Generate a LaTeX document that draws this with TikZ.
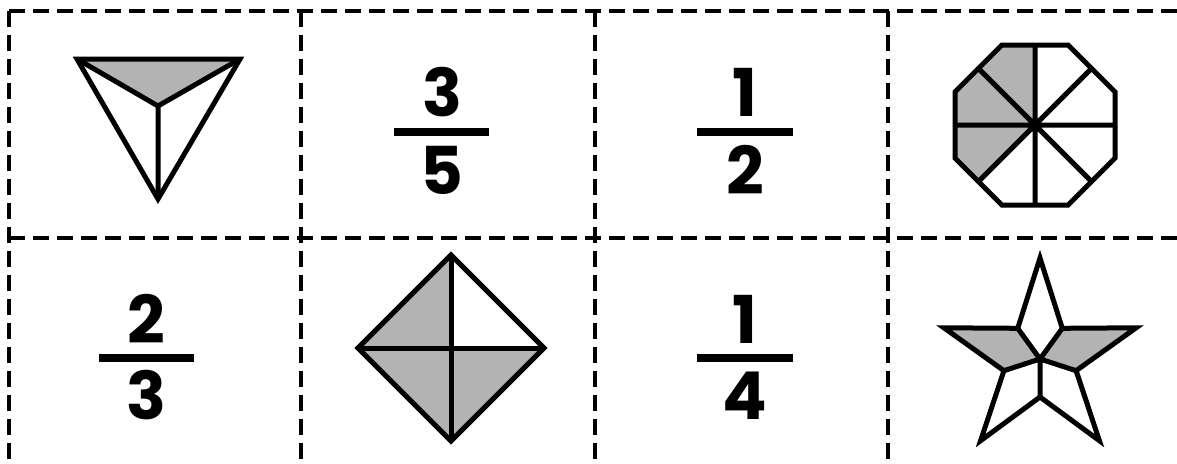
\documentclass[tikz,border=0pt]{standalone}
\usepackage{fontspec}
\setmainfont{Poppins}
\begin{document}
\begin{tikzpicture}[x=1pt,y=-1pt,
  gridline/.style={line width=4pt,dash pattern=on 16pt off 8pt},
  shapeline/.style={line width=5pt,line join=miter,draw=black},
  shaded/.style={fill=shadegray},
  digit/.style={anchor=base,inner sep=0pt,font=\fontsize{66}{66}\selectfont\bfseries},
  fracbar/.style={line width=8pt}]
\definecolor{shadegray}{HTML}{B3B3B3}
\useasboundingbox (0,0) rectangle (1177,463);
\begin{scope}
\clip (0,0) rectangle (1177,463);
\coordinate (g00) at (9,11);
\coordinate (g01) at (1190,11);
\coordinate (g10) at (9,238);
\coordinate (g11) at (1190,238);
\draw[gridline] (g00) -- (g01);
\draw[gridline] (g10) -- (g11);
\foreach \gx/\gn in {9/a,301/b,595/c,888/d}{
  \coordinate (v\gn t) at (\gx,11);
  \coordinate (v\gn b) at (\gx,470);
  \draw[gridline] (v\gn t) -- (v\gn b);
}
\end{scope}
% triangle
\coordinate (t1) at (77,59);
\coordinate (t2) at (240,59);
\coordinate (t3) at (158,199);
\coordinate (tc) at (158,106);
\fill[shaded] (t1) -- (t2) -- (tc) -- cycle;
\draw[shapeline] (t1) -- (t2) -- (t3) -- cycle;
\draw[shapeline] (t1) -- (tc) -- (t2) (tc) -- (t3);
% fraction 3/5
\node[digit] (n1) at (442,116) {3};
\node[digit] (d1) at (442,194) {5};
\coordinate (b1l) at (394,132); \coordinate (b1r) at (489,132);
\draw[fracbar] (b1l) -- (b1r);
% fraction 1/2
\node[digit] (n2) at (745,116) {1};
\node[digit] (d2) at (745,194) {2};
\coordinate (b2l) at (697,132); \coordinate (b2r) at (793,132);
\draw[fracbar] (b2l) -- (b2r);
% fraction 2/3
\node[digit] (n3) at (146,343) {2};
\node[digit] (d3) at (146,419) {3};
\coordinate (b3l) at (99,358); \coordinate (b3r) at (194,358);
\draw[fracbar] (b3l) -- (b3r);
% fraction 1/4
\node[digit] (n4) at (745,343) {1};
\node[digit] (d4) at (745,419) {4};
\coordinate (b4l) at (697,358); \coordinate (b4r) at (793,358);
\draw[fracbar] (b4l) -- (b4r);
% octagon
\coordinate (oc) at (1035,125);
\coordinate (ov0) at (1115.0,91.9);
\coordinate (ov1) at (1068.1,45.0);
\coordinate (ov2) at (1001.9,45.0);
\coordinate (ov3) at (955.0,91.9);
\coordinate (ov4) at (955.0,158.1);
\coordinate (ov5) at (1001.9,205.0);
\coordinate (ov6) at (1068.1,205.0);
\coordinate (ov7) at (1115.0,158.1);
\coordinate (om0) at (1115,125);
\coordinate (om1) at (1091.6,68.4);
\coordinate (om2) at (1035,45);
\coordinate (om3) at (978.4,68.4);
\coordinate (om4) at (955,125);
\coordinate (om5) at (978.4,181.6);
\coordinate (om6) at (1035,205);
\coordinate (om7) at (1091.6,181.6);
\fill[shaded] (oc) -- (om2) -- (ov2) -- (ov3) -- (ov4) -- (om5) -- cycle;
\draw[shapeline] (om0) -- (om4) (om2) -- (om6) (om1) -- (om5) (om3) -- (om7);
\draw[shapeline] (ov0) -- (ov1) -- (ov2) -- (ov3) -- (ov4) -- (ov5) -- (ov6) -- (ov7) -- cycle;
% diamond
\coordinate (qc) at (451,348);
\coordinate (qt) at (451,255);
\coordinate (ql) at (358,348);
\coordinate (qr) at (544,348);
\coordinate (qb) at (451,441);
\fill[shaded] (qt) -- (ql) -- (qb) -- (qr) -- (qc) -- cycle;
\draw[shapeline] (qt) -- (qb) (ql) -- (qr);
\draw[shapeline] (qt) -- (ql) -- (qb) -- (qr) -- cycle;
% star
\coordinate (sc) at (1040,359);
\coordinate (so1) at (1040,258);
\coordinate (so2) at (943.9,327.8);
\coordinate (so3) at (980.6,440.7);
\coordinate (so4) at (1099.4,440.7);
\coordinate (so5) at (1136.1,327.8);
\coordinate (si1) at (1017.7,328.3);
\coordinate (si2) at (1003.9,370.7);
\coordinate (si3) at (1040,397);
\coordinate (si4) at (1076.1,370.7);
\coordinate (si5) at (1062.3,328.3);
\fill[shaded] (sc) -- (si1) -- (so2) -- (si2) -- cycle;
\fill[shaded] (sc) -- (si5) -- (so5) -- (si4) -- cycle;
\draw[shapeline] (sc) -- (si1) (sc) -- (si2) (sc) -- (si3) (sc) -- (si4) (sc) -- (si5);
\draw[shapeline] (so1) -- (si5) -- (so5) -- (si4) -- (so4) -- (si3) -- (so3) -- (si2) -- (so2) -- (si1) -- cycle;
\end{tikzpicture}
\end{document}
